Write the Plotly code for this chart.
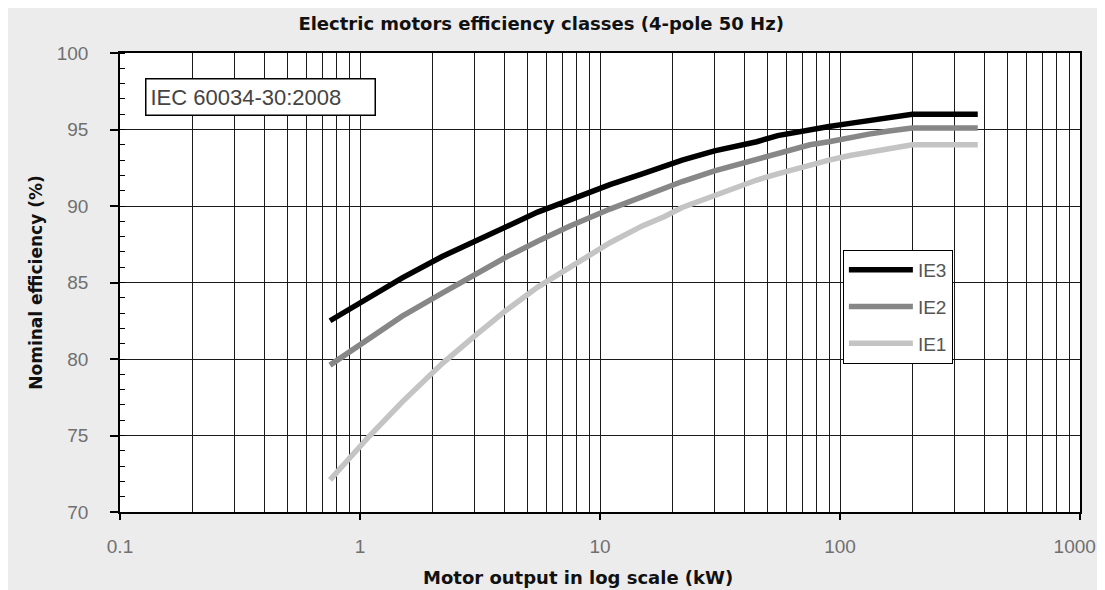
import plotly.graph_objects as go

power_kw = [0.75, 1.1, 1.5, 2.2, 3, 4, 5.5, 7.5, 11, 15, 18.5, 22, 30, 37, 45, 55, 75, 90, 110, 132, 160, 200, 250, 315, 355, 375]
ie3 = [82.5, 84.1, 85.3, 86.7, 87.7, 88.6, 89.6, 90.4, 91.4, 92.1, 92.6, 93.0, 93.6, 93.9, 94.2, 94.6, 95.0, 95.2, 95.4, 95.6, 95.8, 96.0, 96.0, 96.0, 96.0, 96.0]
ie2 = [79.6, 81.4, 82.8, 84.3, 85.5, 86.6, 87.7, 88.7, 89.8, 90.6, 91.2, 91.6, 92.3, 92.7, 93.1, 93.5, 94.0, 94.2, 94.5, 94.7, 94.9, 95.1, 95.1, 95.1, 95.1, 95.1]
ie1 = [72.1, 75.0, 77.2, 79.7, 81.5, 83.1, 84.7, 86.0, 87.6, 88.7, 89.3, 89.9, 90.7, 91.2, 91.7, 92.1, 92.7, 93.0, 93.3, 93.5, 93.8, 94.0, 94.0, 94.0, 94.0, 94.0]
series_names = ["IE3", "IE2", "IE1"]
series_colors = ["#000000", "#878787", "#c4c4c4"]

x_tickvals = [0.1, 1, 10, 100, 1000]
# trailing non-breaking spaces nudge the last label inward so it is not clipped
x_ticktext = ["0.1", "1", "10", "100", "1000\u00a0\u00a0"]
x_minor = [m * d for d in [0.1, 1, 10, 100] for m in range(2, 10)]

fig = go.Figure()
for name, vals, col in zip(series_names, [ie3, ie2, ie1], series_colors):
    fig.add_trace(go.Scatter(x=power_kw, y=vals, mode="lines", name=name,
                             legendgroup=name,
                             line=dict(color=col, width=5.5)))

tick_font = dict(family="Liberation Sans, Arial, sans-serif", size=19, color="#707070")
bold_family = "DejaVu Sans, sans-serif"

fig.update_layout(
    width=1097, height=582,
    margin=dict(l=112, r=25, t=45, b=78),
    paper_bgcolor="#ececec",
    plot_bgcolor="#ffffff",
    title=dict(text="<b>Electric motors efficiency classes (4-pole 50 Hz)</b>",
               x=0.486, xanchor="center", y=0.973, yanchor="middle",
               font=dict(family=bold_family, size=18, color="#111111")),
    showlegend=True,
    legend=dict(x=0.753, y=0.571, xanchor="left", yanchor="top",
                bgcolor="#ffffff", bordercolor="#000000", borderwidth=1,
                font=dict(family="Liberation Sans, Arial, sans-serif", size=19, color="#555555"),
                tracegroupgap=9, traceorder="grouped", itemwidth=64),
    xaxis=dict(type="log", range=[-1, 3], automargin=False,
               tickmode="array", tickvals=x_tickvals, ticktext=x_ticktext,
               ticklabeloverflow="allow",
               ticks="outside", ticklen=6, tickcolor="#000000", tickwidth=1.5,
               showgrid=True, gridcolor="#1a1a1a", gridwidth=1.4,
               minor=dict(tickmode="array", tickvals=x_minor, showgrid=True,
                          gridcolor="#1a1a1a", gridwidth=1.4, ticks=""),
               showline=True, linecolor="#000000", linewidth=1.5, mirror=True,
               tickfont=tick_font, ticklabelstandoff=10,
               zeroline=False),
    yaxis=dict(range=[70, 100], tickmode="linear", tick0=70, dtick=5, automargin=False,
               ticks="outside", ticklen=8, tickcolor="#000000", tickwidth=1.5,
               showgrid=True, gridcolor="#1a1a1a", gridwidth=1.4,
               minor=dict(tickmode="linear", dtick=1, ticks="inside", ticklen=5,
                          tickcolor="#000000", tickwidth=1.2, showgrid=False),
               showline=True, linecolor="#000000", linewidth=1.5, mirror=True,
               tickfont=tick_font, ticklabelstandoff=18,
               title=dict(text="<b>Nominal efficiency (%)</b>",
                          font=dict(family=bold_family, size=17, color="#111111"), standoff=10),
               zeroline=False),
)

# x-axis title (placed as annotation to match the reference's off-centre position)
fig.add_annotation(xref="paper", yref="paper", x=0.477, y=-0.142,
                   xanchor="center", yanchor="middle", showarrow=False,
                   text="<b>Motor output in log scale (kW)</b>",
                   font=dict(family=bold_family, size=18, color="#111111"))

fig.add_annotation(xref="paper", yref="paper", x=0.026, y=0.9455,
                   xanchor="left", yanchor="top", showarrow=False,
                   text="IEC 60034-30:2008", align="left", width=220, height=27,
                   font=dict(family="Liberation Sans, Arial, sans-serif", size=22, color="#444444"),
                   bgcolor="#ffffff", bordercolor="#000000", borderwidth=1.5, borderpad=4)

fig.write_html("out.html")
